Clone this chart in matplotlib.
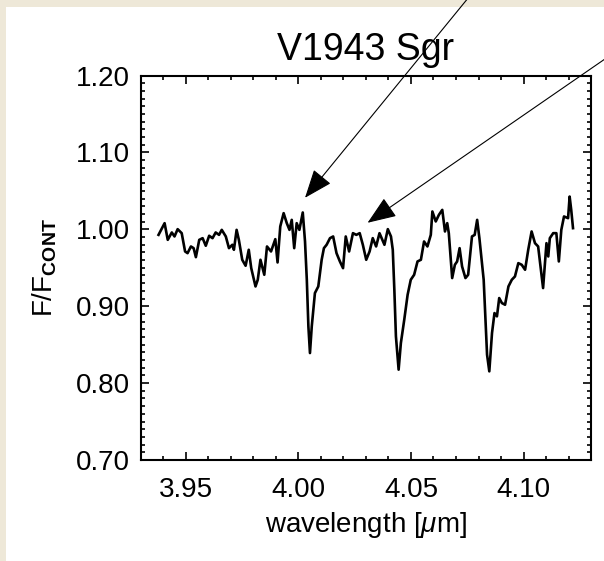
import matplotlib
matplotlib.use('Agg')
import matplotlib.pyplot as plt
import matplotlib.patches as mpatches
from matplotlib.ticker import MultipleLocator, FormatStrFormatter

# spectrum
wavelength = [3.9378, 3.9405, 3.9419, 3.9437, 3.9449, 3.9463, 3.9481, 3.9496,
              3.9507, 3.9522, 3.9534, 3.9544, 3.9559, 3.9574, 3.9588, 3.9603,
              3.9618, 3.9632, 3.9647, 3.9659, 3.9677, 3.9691, 3.9706, 3.9713,
              3.9725, 3.9735, 3.9750, 3.9765, 3.9779, 3.9790, 3.9809, 3.9819,
              3.9831, 3.9848, 3.9860, 3.9878, 3.9897, 3.9907, 3.9919, 3.9934,
              3.9948, 3.9960, 3.9970, 3.9981, 3.9992, 4.0004, 4.0019, 4.0029,
              4.0037, 4.0044, 4.0051, 4.0059, 4.0073, 4.0088, 4.0103, 4.0113,
              4.0125, 4.0140, 4.0154, 4.0169, 4.0184, 4.0198, 4.0210, 4.0225,
              4.0242, 4.0257, 4.0272, 4.0286, 4.0301,
              4.0316, 4.0330, 4.0345, 4.0360, 4.0382, 4.0397, 4.0411, 4.0419,
              4.0426, 4.0433, 4.0445, 4.0455, 4.0470, 4.0485, 4.0499, 4.0514,
              4.0529, 4.0544, 4.0558, 4.0573, 4.0588, 4.0595, 4.0610, 4.0624,
              4.0639, 4.0651, 4.0661, 4.0668, 4.0683, 4.0695, 4.0705, 4.0716,
              4.0727, 4.0742, 4.0754, 4.0771, 4.0783, 4.0794, 4.0804, 4.0823,
              4.0838, 4.0848, 4.0860, 4.0871, 4.0882, 4.0892, 4.0904, 4.0918,
              4.0933, 4.0948, 4.0962, 4.0977, 4.0992, 4.1007, 4.1021, 4.1036,
              4.1051, 4.1065, 4.1087, 4.1102, 4.1110, 4.1117, 4.1132, 4.1146,
              4.1157, 4.1168, 4.1180, 4.1198, 4.1205, 4.1212, 4.1220]
flux = [0.9928, 1.0080, 0.9863, 0.9959, 0.9907, 1.0002, 0.9950, 0.9712,
        0.9690, 0.9777, 0.9755, 0.9638, 0.9863, 0.9885, 0.9786, 0.9916,
        0.9885, 0.9959, 0.9928, 0.9993, 0.9907, 0.9755, 0.9799, 0.9734,
        0.9993, 0.9863, 0.9604, 0.9526, 0.9734, 0.9495, 0.9257, 0.9344,
        0.9604, 0.9409, 0.9777, 0.9712, 0.9872, 0.9569, 1.0037, 1.0210,
        1.0080, 0.9993, 1.0123, 0.9755, 1.0080, 0.9993, 1.0219, 0.9842,
        0.9344, 0.8738, 0.8391, 0.8738, 0.9171, 0.9257, 0.9604, 0.9755,
        0.9799, 0.9885, 0.9907, 0.9690, 0.9582, 0.9495, 0.9907, 0.9712,
        0.9950, 0.9928, 0.9950, 0.9799, 0.9604,
        0.9712, 0.9885, 0.9777, 0.9950, 0.9799, 1.0002, 0.9907, 0.9734,
        0.9214, 0.8608, 0.8175, 0.8521, 0.8824, 0.9149, 0.9344, 0.9409,
        0.9582, 0.9604, 0.9842, 0.9777, 0.9928, 1.0232, 1.0102, 1.0188,
        1.0253, 0.9972, 1.0080, 0.9950, 0.9366, 0.9539, 0.9582, 0.9755,
        0.9517, 0.9366, 0.9409, 0.9907, 0.9928, 1.0123, 0.9885, 0.9344,
        0.8370, 0.8153, 0.8651, 0.8911, 0.8868, 0.9106, 0.9041, 0.9019,
        0.9257, 0.9344, 0.9387, 0.9560, 0.9539, 0.9474, 0.9734, 0.9972,
        0.9820, 0.9777, 0.9236, 0.9820, 0.9647, 0.9885, 0.9950, 0.9950,
        0.9582, 0.9993, 1.0167, 1.0145, 1.0426, 1.0253, 1.0015]

xticks = [3.95, 4.00, 4.05, 4.10]
yticks = [0.70, 0.80, 0.90, 1.00, 1.10, 1.20]

# arrow tips (data) and tails (figure fraction)
arrow_tip_x = [4.0029, 4.0307]
arrow_tip_y = [1.041, 1.0085]
arrow_tail = [(0.786, 1.018), (1.026, 0.913)]

plt.rcParams['font.family'] = ['Liberation Sans', 'DejaVu Sans']
plt.rcParams['mathtext.fontset'] = 'custom'
plt.rcParams['mathtext.rm'] = 'Liberation Sans'
plt.rcParams['mathtext.it'] = 'Liberation Sans:italic'
plt.rcParams['mathtext.bf'] = 'Liberation Sans:bold'

fig = plt.figure(figsize=(6.04, 5.61), dpi=100, facecolor='#eee8d8')
fig.patches.append(mpatches.Rectangle((0.0099, 0), 0.9901, 0.9875,
                                      transform=fig.transFigure,
                                      facecolor='white', edgecolor='none',
                                      zorder=-10))
ax = fig.add_axes([0.2334, 0.18, 0.7451, 0.6854])

ax.plot(wavelength, flux, color='black', lw=1.9)

ax.set_xlim(3.93, 4.13)
ax.set_ylim(0.70, 1.20)
ax.set_xticks(xticks)
ax.set_yticks(yticks)
ax.xaxis.set_minor_locator(MultipleLocator(0.01))
ax.yaxis.set_minor_locator(MultipleLocator(0.01))
ax.xaxis.set_major_formatter(FormatStrFormatter('%.2f'))
ax.yaxis.set_major_formatter(FormatStrFormatter('%.2f'))
ax.tick_params(which='both', direction='in', top=True, right=True, width=1.2)
ax.tick_params(which='major', length=6, labelsize=20)
ax.tick_params(which='minor', length=3)
ax.tick_params(axis='x', pad=12)
ax.tick_params(axis='y', pad=8)
for s in ax.spines.values():
    s.set_linewidth(1.5)

ax.set_title('V1943 Sgr', fontsize=27, pad=11)
ax.set_xlabel(r'wavelength [$\mu$m]', fontsize=20, labelpad=5)
ax.set_ylabel(r'F/F$_{\mathbf{CONT}}$', fontsize=20, labelpad=12)

for tx, ty, tail in zip(arrow_tip_x, arrow_tip_y, arrow_tail):
    ax.annotate('', xy=(tx, ty), xycoords='data',
                xytext=tail, textcoords='figure fraction',
                arrowprops=dict(arrowstyle='-|>,head_length=0.9,head_width=0.35',
                                mutation_scale=20, color='black', lw=0.8,
                                shrinkA=0, shrinkB=0),
                annotation_clip=False)

fig.savefig('out.png', dpi=100, facecolor=fig.get_facecolor())
